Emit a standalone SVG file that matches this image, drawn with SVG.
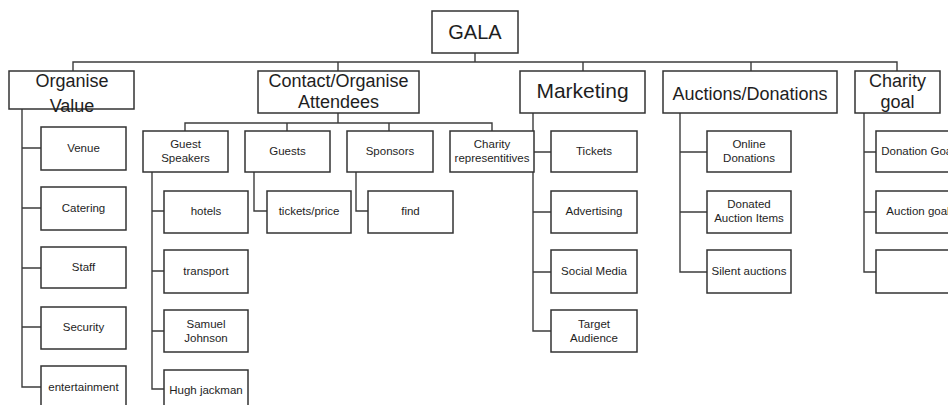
<svg xmlns="http://www.w3.org/2000/svg" width="948" height="405" viewBox="0 0 948 405">
  <style>
    .box { fill: #ffffff; stroke: #333333; stroke-width: 1.5; }
    .wire { fill: none; stroke: #3c3c3c; stroke-width: 1.4; }
    text { font-family: "Liberation Sans", Arial, sans-serif; fill: #1e1e1e; text-anchor: middle; }
    .t0 { font-size: 20px; }
    .t1 { font-size: 18px; }
    .t2 { font-size: 11.5px; }
  </style>
  <rect width="948" height="405" fill="#ffffff"/>

  <!-- connectors -->
  <g id="connectors" class="wire">
    <!-- root to first level -->
    <path d="M475 53V62M73 71V62H897V71M338 62V71M583 62V71M751 62V71"/>
    <!-- Organise Value -->
    <path d="M22 109V387H41M22 148H41M22 208H41M22 268H41M22 327H41"/>
    <!-- Contact/Organise Attendees -->
    <path d="M338 113V123M185 131V123H492V131M287 123V131M389 123V131"/>
    <path d="M152 172V389H164M152 211H164M152 271H164M152 331H164"/>
    <path d="M254 172V211H267"/>
    <path d="M356 172V211H368"/>
    <!-- Marketing -->
    <path d="M533 113V331H551M533 152H551M533 212H551M533 272H551"/>
    <!-- Auctions/Donations -->
    <path d="M680 113V272H707M680 152H707M680 212H707"/>
    <!-- Charity goal -->
    <path d="M864 113V272H876M864 152H876M864 212H876"/>
  </g>

  <!-- root -->
  <g id="gala">
    <rect class="box" x="432" y="11" width="86" height="42"/>
    <text class="t0" x="475" y="39">GALA</text>
  </g>

  <!-- first level -->
  <g id="organise-value">
    <rect class="box" x="9" y="71" width="125" height="38"/>
    <text class="t1" x="72" y="87">Organise</text>
    <text class="t1" x="72" y="112">Value</text>
  </g>
  <g id="contact-attendees">
    <rect class="box" x="258" y="71" width="161" height="42"/>
    <text class="t1" x="338.5" y="87">Contact/Organise</text>
    <text class="t1" x="338.5" y="108">Attendees</text>
  </g>
  <g id="marketing">
    <rect class="box" x="520" y="71" width="125" height="42"/>
    <text x="582.5" y="98" font-size="21">Marketing</text>
  </g>
  <g id="auctions-donations">
    <rect class="box" x="663" y="71" width="174" height="42"/>
    <text class="t1" x="750" y="100">Auctions/Donations</text>
  </g>
  <g id="charity-goal">
    <rect class="box" x="855" y="71" width="85" height="42"/>
    <text class="t1" x="897.5" y="87">Charity</text>
    <text class="t1" x="897.5" y="108">goal</text>
  </g>

  <!-- Organise Value items -->
  <g id="venue">
    <rect class="box" x="41" y="127" width="85" height="43"/>
    <text class="t2" x="83.5" y="152">Venue</text>
  </g>
  <g id="catering">
    <rect class="box" x="41" y="187" width="85" height="43"/>
    <text class="t2" x="83.5" y="212">Catering</text>
  </g>
  <g id="staff">
    <rect class="box" x="41" y="247" width="85" height="41"/>
    <text class="t2" x="83.5" y="271">Staff</text>
  </g>
  <g id="security">
    <rect class="box" x="41" y="307" width="85" height="42"/>
    <text class="t2" x="83.5" y="331">Security</text>
  </g>
  <g id="entertainment">
    <rect class="box" x="41" y="366" width="85" height="42"/>
    <text class="t2" x="83.5" y="391">entertainment</text>
  </g>

  <!-- Contact/Organise Attendees items -->
  <g id="guest-speakers">
    <rect class="box" x="143" y="131" width="85" height="41"/>
    <text class="t2" x="185.5" y="148">Guest</text>
    <text class="t2" x="185.5" y="162">Speakers</text>
  </g>
  <g id="guests">
    <rect class="box" x="245" y="131" width="85" height="41"/>
    <text class="t2" x="287.5" y="155">Guests</text>
  </g>
  <g id="sponsors">
    <rect class="box" x="347" y="131" width="86" height="41"/>
    <text class="t2" x="390" y="155">Sponsors</text>
  </g>
  <g id="charity-representitives">
    <rect class="box" x="450" y="131" width="84" height="41"/>
    <text class="t2" x="492" y="148">Charity</text>
    <text class="t2" x="492" y="162">representitives</text>
  </g>

  <g id="hotels">
    <rect class="box" x="164" y="191" width="84" height="42"/>
    <text class="t2" x="206" y="215">hotels</text>
  </g>
  <g id="transport">
    <rect class="box" x="164" y="250" width="84" height="43"/>
    <text class="t2" x="206" y="275">transport</text>
  </g>
  <g id="samuel-johnson">
    <rect class="box" x="164" y="310" width="84" height="42"/>
    <text class="t2" x="206" y="328">Samuel</text>
    <text class="t2" x="206" y="342">Johnson</text>
  </g>
  <g id="hugh-jackman">
    <rect class="box" x="164" y="370" width="84" height="42"/>
    <text class="t2" x="206" y="394">Hugh jackman</text>
  </g>
  <g id="tickets-price">
    <rect class="box" x="267" y="191" width="84" height="42"/>
    <text class="t2" x="309" y="215">tickets/price</text>
  </g>
  <g id="find">
    <rect class="box" x="368" y="191" width="85" height="42"/>
    <text class="t2" x="410.5" y="215">find</text>
  </g>

  <!-- Marketing items -->
  <g id="tickets">
    <rect class="box" x="551" y="131" width="86" height="41"/>
    <text class="t2" x="594" y="155">Tickets</text>
  </g>
  <g id="advertising">
    <rect class="box" x="551" y="191" width="86" height="42"/>
    <text class="t2" x="594" y="215">Advertising</text>
  </g>
  <g id="social-media">
    <rect class="box" x="551" y="250" width="86" height="43"/>
    <text class="t2" x="594" y="275">Social Media</text>
  </g>
  <g id="target-audience">
    <rect class="box" x="551" y="310" width="86" height="42"/>
    <text class="t2" x="594" y="328">Target</text>
    <text class="t2" x="594" y="342">Audience</text>
  </g>

  <!-- Auctions/Donations items -->
  <g id="online-donations">
    <rect class="box" x="707" y="131" width="84" height="41"/>
    <text class="t2" x="749" y="148">Online</text>
    <text class="t2" x="749" y="162">Donations</text>
  </g>
  <g id="donated-auction-items">
    <rect class="box" x="707" y="191" width="84" height="42"/>
    <text class="t2" x="749" y="208">Donated</text>
    <text class="t2" x="749" y="222">Auction Items</text>
  </g>
  <g id="silent-auctions">
    <rect class="box" x="707" y="250" width="84" height="43"/>
    <text class="t2" x="749" y="275">Silent auctions</text>
  </g>

  <!-- Charity goal items -->
  <g id="donation-goal">
    <rect class="box" x="876" y="131" width="84" height="41"/>
    <text class="t2" x="918" y="155">Donation Goal</text>
  </g>
  <g id="auction-goal">
    <rect class="box" x="876" y="191" width="84" height="42"/>
    <text class="t2" x="918" y="215">Auction goal</text>
  </g>
  <g id="goal-blank">
    <rect class="box" x="876" y="250" width="84" height="43"/>
  </g>
</svg>
